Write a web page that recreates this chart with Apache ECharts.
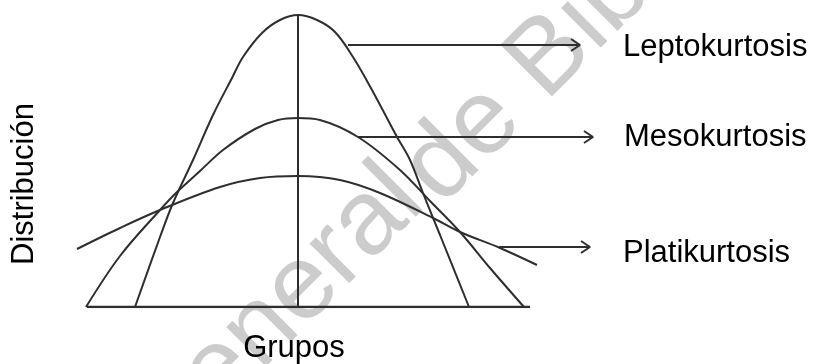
<!DOCTYPE html>
<html>
<head>
<meta charset="utf-8">
<script src="https://cdn.jsdelivr.net/npm/echarts@6/dist/echarts.min.js"></script>
<style>
  html, body { margin: 0; padding: 0; background: #fff; }
  #chart { width: 814px; height: 364px; }
</style>
</head>
<body>
<div id="chart"></div>
<script>
// curves: [grupo, distribución]
const lepto = [[-16.3, 0], [-13.8, 7.0], [-12.5, 10.4], [-10.5, 14.7], [-8.5, 19.2], [-6.6, 22.9],
  [-5.5, 25.0], [-3.6, 27.4], [-1.8, 28.7], [0, 29.2], [1.9, 28.7], [3.7, 27.5], [5.5, 25.0],
  [7.4, 21.7], [9.9, 17.0], [11.2, 14.7], [12.5, 11.4], [14.2, 7.2], [17.1, 0]];
const meso = [[-21.2, 0], [-17.8, 5.1], [-13.8, 9.7], [-12.1, 11.5], [-9.8, 13.6], [-7.5, 15.7],
  [-4.3, 17.8], [-2.0, 18.7], [0, 18.9], [2.2, 18.7], [6.0, 17.0], [10.2, 13.7], [13.2, 10.6],
  [16.2, 7.5], [19.2, 3.9], [22.6, 0]];
const plati = [[-22.1, 5.8], [-17.8, 7.9], [-13.8, 9.7], [-7.8, 12.0], [-3.8, 12.9], [0, 13.1],
  [4.2, 12.7], [8.2, 11.4], [13.5, 8.9], [16.2, 7.5], [20.2, 5.9], [23.9, 4.2]];
const centre = [[0, 0], [0, 29.2]];
const base = [[-21.1, 0], [23.2, 0]];

const labels = ['Leptokurtosis', 'Mesokurtosis', 'Platikurtosis'];
const arrowY = [26.2, 17.0, 6.0];
const arrowFrom = [5.0, 6.0, 20.1];
const arrowTo = [28.2, 29.5, 29.2];

const ink = '#2e2e2e';
const font = '"Liberation Sans", Arial, sans-serif';

function line(data, width) {
  return {
    type: 'line', data: data, showSymbol: false, symbol: 'none', smooth: data.length > 2 ? 0.35 : false,
    lineStyle: { color: ink, width: width || 2 }, silent: true, z: 5
  };
}

const series = [line(lepto), line(meso), line(plati), line(centre), line(base, 2.5)];
arrowY.forEach((y, i) => {
  series.push(line([[arrowFrom[i], y], [arrowTo[i], y]]));
  series.push({
    type: 'line', symbol: 'none', silent: true, z: 5,
    data: [[arrowTo[i] - 0.9, y + 0.6], [arrowTo[i], y], [arrowTo[i] - 0.9, y - 0.6]],
    lineStyle: { color: ink, width: 2 }
  });
});

const labelPx = [[623, 47], [624, 137], [623, 253]];

// faint watermark crossing the picture
const mark = (text, x, y) => ({
  type: 'text', x: x, y: y, rotation: 45 * Math.PI / 180, z: -10, silent: true,
  style: { text: text, fontSize: 106, fontFamily: font, fill: '#cccccc', align: 'left', verticalAlign: 'middle' }
});

const chart = echarts.init(document.getElementById('chart'));
chart.setOption({
  animation: false,
  backgroundColor: '#fff',
  grid: { left: 48, top: 7, width: 550, height: 300 },
  xAxis: { type: 'value', min: -25, max: 30, show: false },
  yAxis: { type: 'value', min: 0, max: 30, show: false },
  series: series,
  graphic: [
    mark('General', 140, 451),
    mark('de Bibliotecas', 421, 186),
    ...labels.map((t, i) => ({
      type: 'text', x: labelPx[i][0], y: labelPx[i][1], z: 20,
      style: { text: t, fontSize: 31, fontFamily: font, fill: '#000', align: 'left', verticalAlign: 'middle' }
    })),
    {
      type: 'text', x: 294, y: 348, z: 20,
      style: { text: 'Grupos', fontSize: 31, fontFamily: font, fill: '#000', align: 'center', verticalAlign: 'middle' }
    },
    {
      type: 'text', x: 24, y: 184, rotation: Math.PI / 2, z: 20,
      style: { text: 'Distribución', fontSize: 31, fontFamily: font, fill: '#000', align: 'center', verticalAlign: 'middle' }
    }
  ]
});
</script>
</body>
</html>
